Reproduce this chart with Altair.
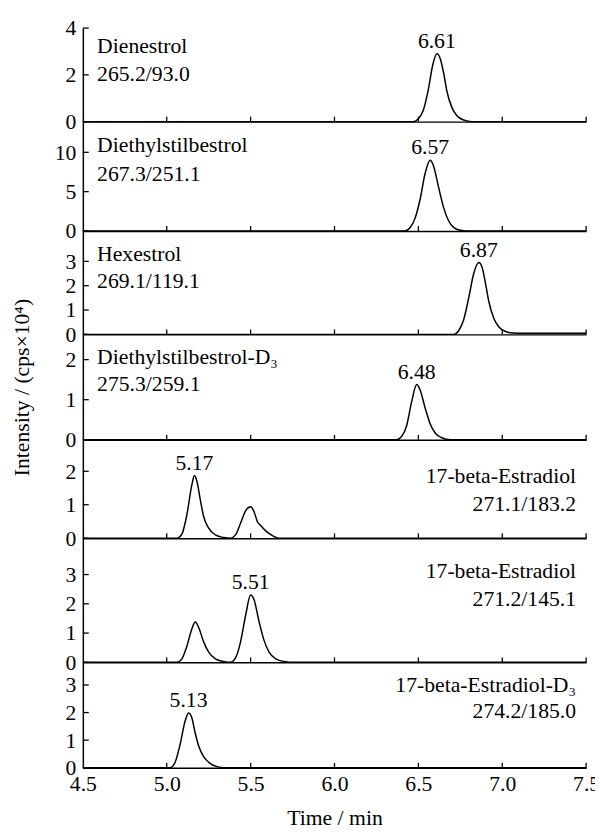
import altair as alt
import pandas as pd

FONT = "Liberation Serif"

# ---------------- data ----------------
x_tick_values = [4.5, 5.0, 5.5, 6.0, 6.5, 7.0, 7.5]
x_inner_ticks = [5.0, 5.5, 6.0, 6.5, 7.0, 7.5]

# Panel 1: Dienestrol 265.2/93.0
t1 = [4.5, 6.47, 6.50, 6.53, 6.56, 6.585, 6.61, 6.63, 6.65, 6.67, 6.70, 6.73, 6.77, 6.82, 7.5]
v1 = [0, 0, 0.12, 0.5, 1.4, 2.4, 2.9, 2.7, 2.1, 1.3, 0.6, 0.25, 0.07, 0, 0]
# Panel 2: Diethylstilbestrol 267.3/251.1
t2 = [4.5, 6.42, 6.45, 6.48, 6.51, 6.54, 6.57, 6.59, 6.62, 6.65, 6.68, 6.71, 6.75, 6.79, 7.5]
v2 = [0, 0, 0.4, 1.6, 4.0, 7.3, 9.0, 8.3, 5.6, 3.0, 1.3, 0.45, 0.08, 0, 0]
# Panel 3: Hexestrol 269.1/119.1
t3 = [4.5, 6.71, 6.74, 6.77, 6.80, 6.83, 6.86, 6.88, 6.90, 6.92, 6.95, 6.98, 7.02, 7.06, 7.15, 7.5]
v3 = [0, 0, 0.15, 0.6, 1.5, 2.5, 2.95, 2.75, 2.1, 1.35, 0.65, 0.3, 0.12, 0.06, 0.05, 0.05]
# Panel 4: Diethylstilbestrol-D3 275.3/259.1
t4 = [4.5, 6.37, 6.40, 6.43, 6.46, 6.49, 6.51, 6.54, 6.57, 6.60, 6.64, 6.69, 7.5]
v4 = [0, 0, 0.08, 0.35, 0.95, 1.38, 1.25, 0.8, 0.4, 0.17, 0.05, 0, 0]
# Panel 5: 17-beta-Estradiol 271.1/183.2
t5 = [4.5, 5.06, 5.09, 5.12, 5.15, 5.165, 5.18, 5.20, 5.22, 5.25, 5.29, 5.34, 5.38,
      5.41, 5.44, 5.47, 5.50, 5.52, 5.54, 5.56, 5.59, 5.63, 5.67, 7.5]
v5 = [0, 0, 0.12, 0.7, 1.6, 1.87, 1.7, 1.15, 0.65, 0.3, 0.1, 0.02, 0,
      0.1, 0.45, 0.82, 0.94, 0.8, 0.5, 0.38, 0.22, 0.08, 0, 0]
# Panel 6: 17-beta-Estradiol 271.2/145.1
t6 = [4.5, 5.06, 5.09, 5.12, 5.15, 5.17, 5.19, 5.22, 5.25, 5.29, 5.34, 5.38,
      5.41, 5.44, 5.47, 5.50, 5.52, 5.55, 5.58, 5.61, 5.65, 5.70, 5.76, 7.5]
v6 = [0, 0, 0.12, 0.55, 1.15, 1.38, 1.2, 0.7, 0.35, 0.12, 0.03, 0,
      0.15, 0.7, 1.6, 2.3, 2.15, 1.4, 0.75, 0.35, 0.12, 0.03, 0, 0]
# Panel 7: 17-beta-Estradiol-D3 274.2/185.0
t7 = [4.5, 5.02, 5.05, 5.08, 5.11, 5.13, 5.15, 5.17, 5.19, 5.22, 5.26, 5.30, 5.34, 7.5]
v7 = [0, 0, 0.2, 0.85, 1.7, 1.98, 1.8, 1.25, 0.8, 0.4, 0.15, 0.04, 0, 0]

times = [t1, t2, t3, t4, t5, t6, t7]
values = [v1, v2, v3, v4, v5, v6, v7]

compound_names = ["Dienestrol", "Diethylstilbestrol", "Hexestrol", "Diethylstilbestrol-D\u2083",
                  "17-beta-Estradiol", "17-beta-Estradiol", "17-beta-Estradiol-D\u2083"]
transitions = ["265.2/93.0", "267.3/251.1", "269.1/119.1", "275.3/259.1",
               "271.1/183.2", "271.2/145.1", "274.2/185.0"]

peak_times = [6.61, 6.57, 6.86, 6.49, 5.165, 5.50, 5.13]
peak_heights = [2.9, 9.0, 2.95, 1.38, 1.87, 2.3, 1.98]
peak_labels = ["6.61", "6.57", "6.87", "6.48", "5.17", "5.51", "5.13"]

y_tick_values = [[0, 2, 4], [0, 5, 10], [0, 1, 2, 3], [0, 1, 2], [0, 1, 2], [0, 1, 2, 3], [0, 1, 2, 3]]

# layout / annotation placement (data units)
y_domain_max = [4.0, 13.9, 4.25, 2.63, 2.94, 4.24, 3.82]
panel_heights = [95, 111, 105, 107, 100, 126, 107]
label_side = ["left", "left", "left", "left", "right", "right", "right"]
name_y = [3.24, 10.9, 3.28, 2.06, 1.85, 3.13, 3.0]
trans_y = [2.02, 7.25, 2.19, 1.38, 1.03, 2.15, 2.04]
LEFT_X = 4.585
RIGHT_X = 7.44

PLOT_W = 511
FS = 22


def make_panel(i):
    last = i == len(times) - 1
    h = panel_heights[i]
    xscale = alt.Scale(domain=[4.5, 7.5], nice=False, zero=False)
    yscale = alt.Scale(domain=[0, y_domain_max[i]], nice=False, zero=True)

    if last:
        xaxis = alt.Axis(values=x_tick_values, format=".1f", ticks=False, labels=True,
                         title="Time / min", labelPadding=6, titlePadding=14,
                         labelFlush=False, grid=False)
    else:
        xaxis = alt.Axis(values=x_tick_values, ticks=False, labels=False, title=None, grid=False)

    if i == 3:
        yaxis = alt.Axis(values=y_tick_values[i], ticks=False, labelPadding=7, format="d",
                         grid=False, title="Intensity / (cps\u00d710\u2074)", titlePadding=32)
    else:
        yaxis = alt.Axis(values=y_tick_values[i], ticks=False, labelPadding=7, format="d",
                         grid=False, title=None)

    X = alt.X("t:Q", scale=xscale, axis=xaxis)
    Y = alt.Y("v:Q", scale=yscale, axis=yaxis)

    df = pd.DataFrame({"t": times[i], "v": values[i]})
    line = alt.Chart(df).mark_line(color="black", strokeWidth=1.5, interpolate="monotone").encode(
        x=X, y=Y,
    )

    xt = pd.DataFrame({"t": x_inner_ticks})
    xticks = alt.Chart(xt).mark_rule(color="black", strokeWidth=1.3).encode(
        x=X, y=alt.value(h), y2=alt.value(h - 5),
    )

    yt = pd.DataFrame({"v": y_tick_values[i]})
    yticks = alt.Chart(yt).mark_rule(color="black", strokeWidth=1.3).encode(
        y=Y, x=alt.value(0), x2=alt.value(6),
    )

    pk = pd.DataFrame({"t": [peak_times[i]], "v": [peak_heights[i]], "lab": [peak_labels[i]]})
    peak_text = alt.Chart(pk).mark_text(font=FONT, fontSize=FS, color="black",
                                        baseline="alphabetic", align="center", dy=-6).encode(
        x=X, y=Y, text="lab:N",
    )

    side = label_side[i]
    lx = LEFT_X if side == "left" else RIGHT_X
    ann = pd.DataFrame({"t": [lx, lx], "v": [name_y[i], trans_y[i]],
                        "lab": [compound_names[i], transitions[i]]})
    ann_text = alt.Chart(ann).mark_text(font=FONT, fontSize=FS, color="black",
                                        baseline="middle", align=side).encode(
        x=X, y=Y, text="lab:N",
    )

    return alt.layer(line, xticks, yticks, peak_text, ann_text).properties(width=PLOT_W, height=h)


panels = [make_panel(i) for i in range(len(times))]

chart = alt.vconcat(*panels, spacing=0, bounds="flush").properties(
    padding={"left": 3, "top": 3, "right": -5, "bottom": 5},
).configure_view(stroke=None).configure_axis(
    labelFont=FONT, labelFontSize=FS, labelColor="black",
    titleFont=FONT, titleFontSize=FS, titleFontWeight="normal", titleColor="black",
    domainColor="black", domainWidth=1.5, grid=False,
)

chart.save("out.html", embed_options={"renderer": "svg", "actions": False})
